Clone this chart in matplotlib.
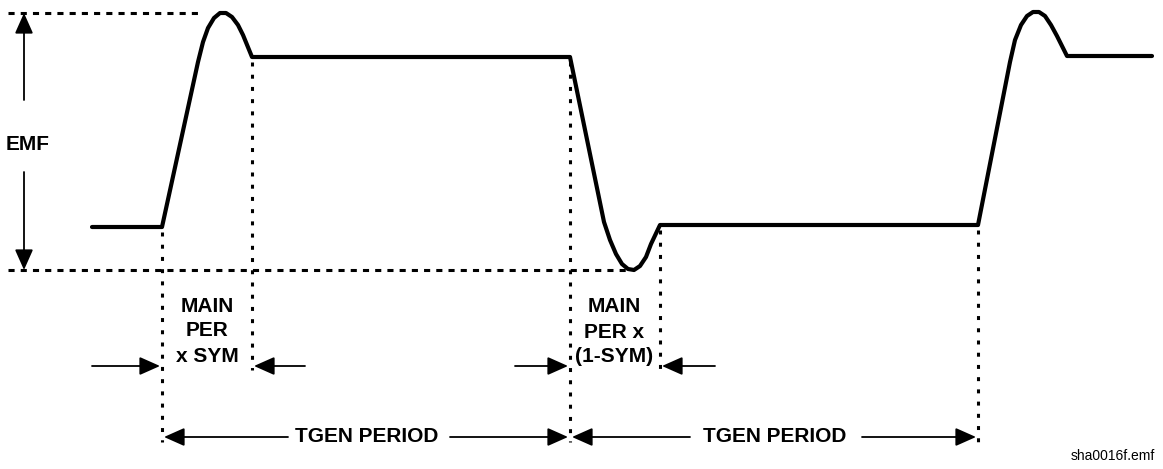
import matplotlib
matplotlib.use('Agg')
import matplotlib.pyplot as plt

plt.rcParams['font.family'] = ['Liberation Sans', 'DejaVu Sans']

# waveform points (pixel coords, y down)
wave_x = [92, 162, 198, 203, 208, 214, 220, 226, 232, 238, 243, 252, 570,
          604, 610, 616, 622, 628, 634, 640, 646, 651, 660, 978,
          1010, 1015, 1021, 1027, 1033, 1039, 1045, 1051, 1057, 1067, 1152]
wave_y = [227, 227, 62, 42, 28, 18, 13, 13, 17, 25, 35, 57, 57,
          222, 240, 254, 264, 269, 270, 266, 257, 244, 225, 225,
          62, 40, 25, 16, 12, 12, 16, 25, 36, 56, 56]

# dotted guide lines: (x0, y0, x1, y1)
h_guides = [
    (8, 13, 200, 13),
    (8, 270, 626, 270),
]
v_guides = [
    (162, 232, 162, 442),
    (252, 62, 252, 370),
    (570, 62, 570, 442),
    (660, 230, 660, 370),
    (978, 230, 978, 442),
]

# arrows: (tail x, tail y, head x, head y)
arrows = [
    (24, 100, 24, 13),
    (24, 172, 24, 270),
    (92, 366, 160, 366),
    (305, 366, 254, 366),
    (515, 366, 568, 366),
    (715, 366, 662, 366),
    (288, 437, 164, 437),
    (450, 437, 568, 437),
    (690, 437, 572, 437),
    (862, 437, 976, 437),
]

labels = [
    (28, 145, 'EMF'),
    (207, 331, 'MAIN\nPER\nx SYM'),
    (614, 332, 'MAIN\nPER x\n(1-SYM)'),
    (367, 437, 'TGEN PERIOD'),
    (775, 437, 'TGEN PERIOD'),
]

fig = plt.figure(figsize=(11.63, 4.69), dpi=100)
ax = fig.add_axes([0, 0, 1, 1])
ax.set_xlim(0, 1163)
ax.set_ylim(469, 0)
ax.axis('off')

ax.plot(wave_x, wave_y, color='black', lw=3.0, solid_joinstyle='round', solid_capstyle='round')

for x0, y0, x1, y1 in h_guides:
    ax.plot([x0, x1], [y0, y1], color='black', lw=2.2, linestyle=(0, (2.0, 2.0)), dash_capstyle='butt')
for x0, y0, x1, y1 in v_guides:
    ax.plot([x0, x1], [y0, y1], color='black', lw=2.2, linestyle=(0, (1.3, 2.7)), dash_capstyle='butt')

for x0, y0, x1, y1 in arrows:
    ax.annotate('', xy=(x1, y1), xytext=(x0, y0),
                arrowprops=dict(arrowstyle='-|>,head_length=0.9,head_width=0.4', color='black',
                                lw=1.3, shrinkA=0, shrinkB=0, mutation_scale=14))

for x, y, s in labels:
    ax.text(x, y, s, ha='center', va='center', fontsize=15, fontweight='bold',
            linespacing=1.4)

ax.text(1155, 463, 'sha0016f.emf', ha='right', va='bottom', fontsize=10)

fig.savefig('out.png', dpi=100)
